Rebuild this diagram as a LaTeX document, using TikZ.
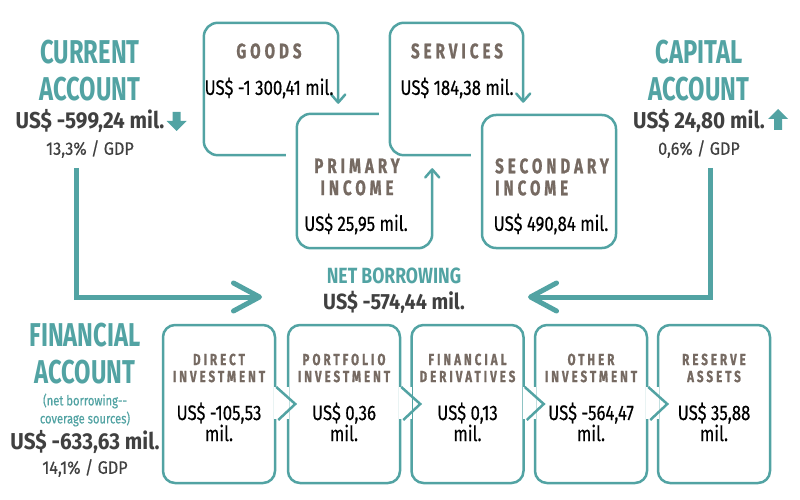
\documentclass[tikz,border=0pt]{standalone}
\usepackage{fontspec}
\setmainfont[FakeStretch=0.72]{Fira Sans}
\newfontfamily\midfont[FakeStretch=0.8,UprightFeatures={FakeBold=0.4}]{Fira Sans}
\newfontfamily\widefont[FakeStretch=0.9,UprightFeatures={FakeBold=0.4}]{Fira Sans}
\newfontfamily\spacedfont[FakeStretch=0.72,LetterSpace=19,BoldFeatures={FakeBold=1}]{Fira Sans}
\usepackage{tikz}
\usetikzlibrary{arrows.meta}
\definecolor{bopteal}{HTML}{52A3A3}
\definecolor{bopbrown}{HTML}{766A62}
\definecolor{bopdark}{HTML}{404040}

\begin{document}
\begin{tikzpicture}[x=1pt, y=-1pt,
  head/.style={text=bopteal, font=\bfseries\fontsize{33}{37}\selectfont, align=center, inner sep=0pt},
  total/.style={text=bopdark, font=\widefont\bfseries\fontsize{23}{27}\selectfont, inner sep=0pt},
  share/.style={text=bopdark, font=\widefont\fontsize{18}{20}\selectfont, inner sep=0pt},
  note/.style={text=bopteal, font=\midfont\fontsize{14}{18}\selectfont, align=center, inner sep=0pt},
  ttl/.style={text=bopbrown, font=\spacedfont\bfseries\fontsize{21}{22}\selectfont, inner sep=0pt},
  subttl/.style={text=bopbrown, font=\spacedfont\bfseries\fontsize{16}{17}\selectfont, align=center, inner sep=0pt},
  val/.style={text=black, font=\midfont\fontsize{21}{21}\selectfont, align=center, inner sep=0pt},
  area/.style={inner sep=0pt, minimum width=134pt, minimum height=132pt},
  frame/.style={draw=bopteal, line width=2.5pt, rounded corners=14pt},
  fin/.style={draw=bopteal, line width=2.5pt, rounded corners=12pt, minimum width=112pt, minimum height=158pt, inner sep=0pt},
  edge/.style={draw=bopteal, line width=2.5pt},
  small/.style={-{Straight Barb[length=8pt,width=14pt,round]}},
  flow/.style={draw=bopteal, line width=5pt, -{Straight Barb[length=26pt,width=28pt,round]}},
  icon/.style={fill=bopteal}]
\useasboundingbox (0,0) rectangle (800,500);

% current account
\node[head] (cur) at (90,71) {CURRENT\\ACCOUNT};
\node[total] (curval) at (90,121) {US\$ -599,24 mil.};
\node[share] (curgdp) at (90,149) {13,3\% / GDP};
\fill[icon, shift={([xshift=12pt]curval.east)}] (-4,-9) -- (4,-9) -- (4,0) -- (10,0) -- (0,10) -- (-10,0) -- (-4,0) -- cycle;

% capital account
\node[head] (cap) at (699,71) {CAPITAL\\ACCOUNT};
\node[total] (capval) at (699,121) {US\$ 24,80 mil.};
\node[share] (capgdp) at (699,149) {0,6\% / GDP};
\fill[icon, shift={([xshift=13pt]capval.east)}] (0,-12) -- (10,-2) -- (4,-2) -- (4,9) -- (-4,9) -- (-4,-2) -- (-10,-2) -- cycle;

% current account parts
\node[area] (goods) at (271,89) {};
\node[area, minimum width=135pt, minimum height=134pt] (primary) at (364.5,181) {};
\node[area, minimum width=133pt] (services) at (456.5,89) {};
\node[area, minimum height=133pt, draw=bopteal, line width=2.5pt, rounded corners=14pt] (secondary) at (549,181.5) {};

\draw[frame, small] ([xshift=-11pt]primary.west |- goods.south) -- (goods.south west) -- (goods.north west) -- (goods.north east) -- ([yshift=10pt]goods.east |- primary.north);
\draw[frame, small] ([xshift=-11pt]services.west |- primary.north) -- (primary.north west) -- (primary.south west) -- (primary.south east) -- ([yshift=-13pt]primary.east |- services.south);
\draw[frame, small] ([xshift=-10pt]secondary.west |- services.south) -- (services.south west) -- (services.north west) -- (services.north east) -- ([yshift=11pt]services.east |- secondary.north);

\node[ttl] (goodst) at (269,51) {GOODS};
\node[val] (goodsv) at (269,88) {US\$ -1 300,41 mil.};
\node[ttl, align=center] (primaryt) at (357,177) {PRIMARY\\INCOME};
\node[val] (primaryv) at (356,224) {US\$ 25,95 mil.};
\node[ttl] (servicest) at (457,51) {SERVICES};
\node[val] (servicesv) at (457,88) {US\$ 184,38 mil.};
\node[ttl, align=left] (secondaryt) at (552,177) {SECONDARY\\INCOME};
\node[val] (secondaryv) at (551,224) {US\$ 490,84 mil.};

% net borrowing
\node[head, font=\midfont\bfseries\fontsize{22}{26}\selectfont] (net) at (394,276) {NET BORROWING};
\node[total, font=\widefont\bfseries\fontsize{22}{26}\selectfont] (netval) at (394,302) {US\$ -574,44 mil.};
\coordinate (inleft) at (262,297);
\coordinate (inright) at (528,297);
\draw[flow] ([xshift=-14pt,yshift=-10pt]curgdp.south) |- (inleft);
\draw[flow] ([xshift=11pt,yshift=-10pt]capgdp.south) |- (inright);

% financial account
\node[head] (finacc) at (85,354) {FINANCIAL\\ACCOUNT};
\node[note] (finnote) at (85,410) {(net borrowing--\\coverage sources)};
\node[total] (finval) at (85,442) {US\$ -633,63 mil.};
\node[share] (fingdp) at (85,468) {14,1\% / GDP};

\node[fin] (direct) at (219,404) {};
\node[fin] (portfolio) at (344,404) {};
\node[fin] (derivatives) at (467.5,404) {};
\node[fin] (other) at (591,404) {};
\node[fin] (reserve) at (714,404) {};

\fill[white] ([xshift=-2pt,yshift=17pt]direct.east) rectangle ([xshift=2pt,yshift=-15pt]portfolio.west);
\draw[edge] ([yshift=17pt]direct.east) -- ([xshift=19pt]direct.east) -- ([xshift=2pt,yshift=-16pt]direct.east);
\fill[white] ([xshift=-2pt,yshift=17pt]portfolio.east) rectangle ([xshift=2pt,yshift=-15pt]derivatives.west);
\draw[edge] ([yshift=17pt]portfolio.east) -- ([xshift=19pt]portfolio.east) -- ([xshift=2pt,yshift=-16pt]portfolio.east);
\fill[white] ([xshift=-2pt,yshift=17pt]derivatives.east) rectangle ([xshift=2pt,yshift=-15pt]other.west);
\draw[edge] ([yshift=17pt]derivatives.east) -- ([xshift=19pt]derivatives.east) -- ([xshift=2pt,yshift=-16pt]derivatives.east);
\fill[white] ([xshift=-2pt,yshift=17pt]other.east) rectangle ([xshift=2pt,yshift=-15pt]reserve.west);
\draw[edge] ([yshift=17pt]other.east) -- ([xshift=19pt]other.east) -- ([xshift=2pt,yshift=-16pt]other.east);

\node[subttl] (directt) at ([yshift=36pt]direct.center) {DIRECT\\INVESTMENT};
\node[val] (directv) at ([yshift=-18pt]direct.center) {US\$ -105,53\\mil.};
\node[subttl] (portfoliot) at ([yshift=36pt]portfolio.center) {PORTFOLIO\\INVESTMENT};
\node[val] (portfoliov) at ([yshift=-18pt]portfolio.center) {US\$ 0,36\\mil.};
\node[subttl] (derivativest) at ([yshift=36pt]derivatives.center) {FINANCIAL\\DERIVATIVES};
\node[val] (derivativesv) at ([yshift=-18pt]derivatives.center) {US\$ 0,13\\mil.};
\node[subttl] (othert) at ([yshift=36pt]other.center) {OTHER\\INVESTMENT};
\node[val] (otherv) at ([yshift=-18pt]other.center) {US\$ -564,47\\mil.};
\node[subttl] (reservet) at ([yshift=36pt]reserve.center) {RESERVE\\ASSETS};
\node[val] (reservev) at ([yshift=-18pt]reserve.center) {US\$ 35,88\\mil.};
\end{tikzpicture}
\end{document}
